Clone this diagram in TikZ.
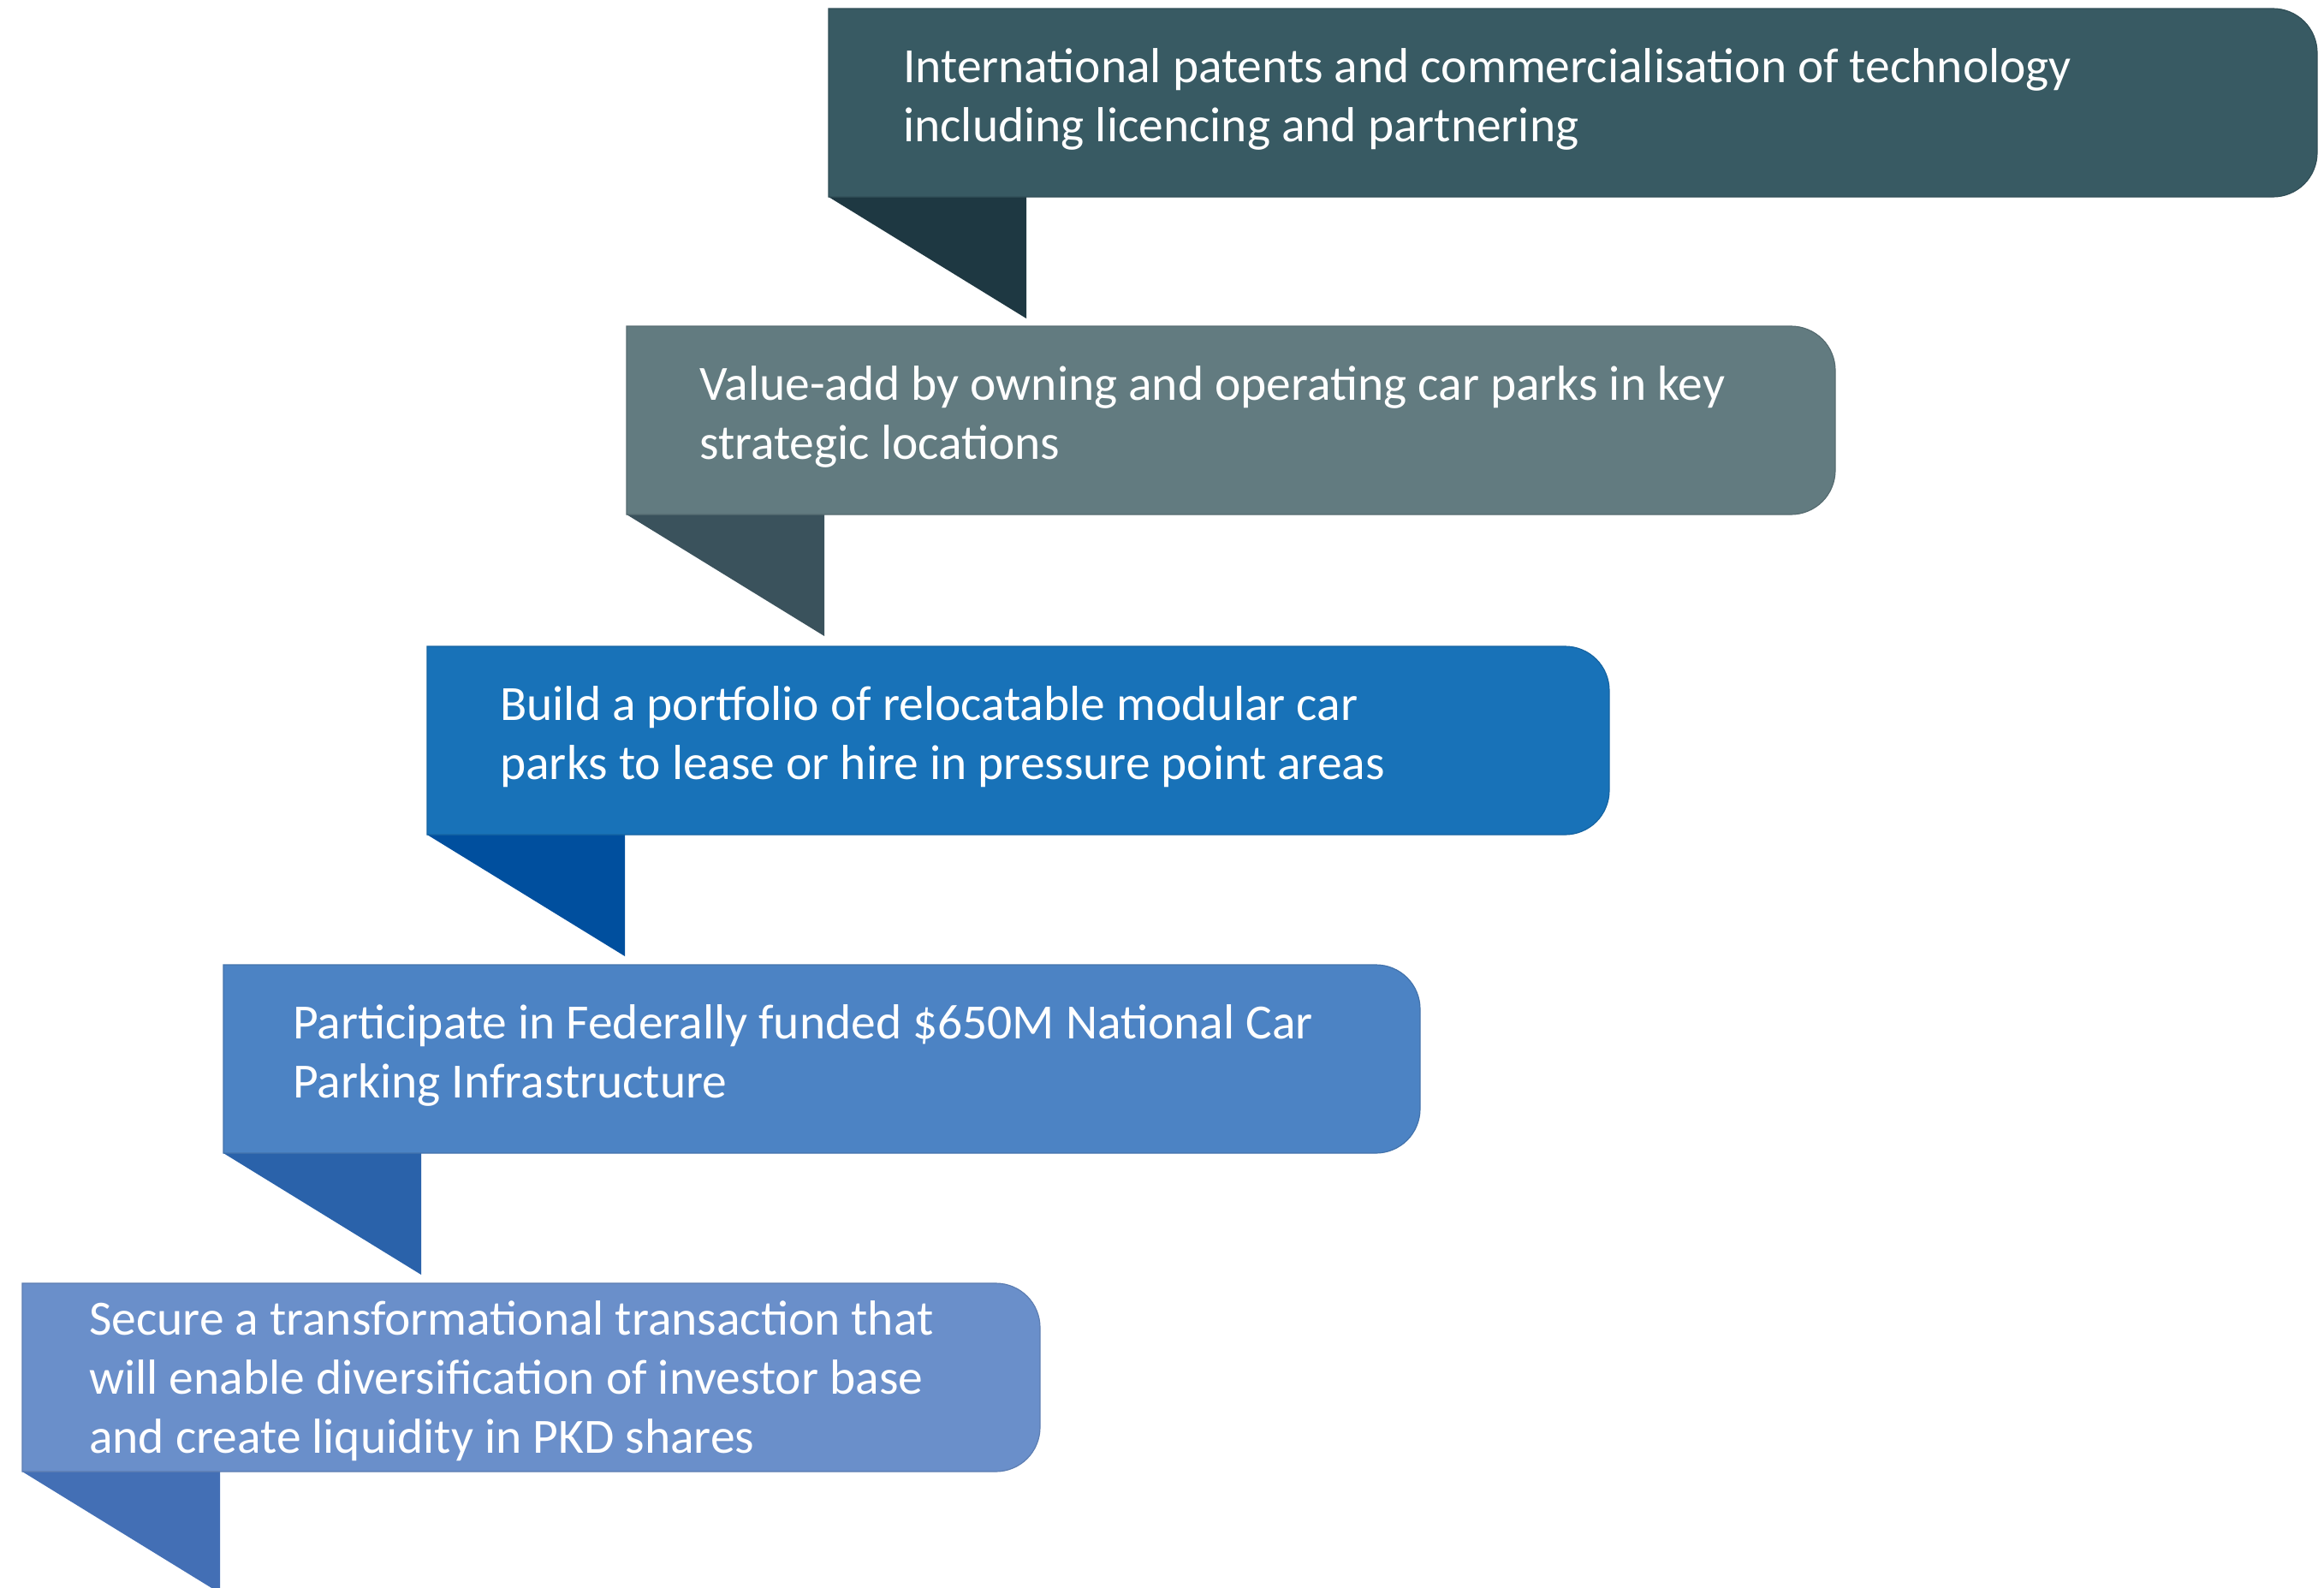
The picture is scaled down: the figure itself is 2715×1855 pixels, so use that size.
\documentclass[tikz,border=0pt]{standalone}
\usepackage{fontspec}
\setmainfont{Carlito}

\definecolor{ribA}{HTML}{385A63}
\definecolor{foldA}{HTML}{1E3842}
\definecolor{ribB}{HTML}{627B80}
\definecolor{foldB}{HTML}{3A525C}
\definecolor{ribC}{HTML}{1872B8}
\definecolor{foldC}{HTML}{004F9E}
\definecolor{ribD}{HTML}{4C83C4}
\definecolor{foldD}{HTML}{2A62AA}
\definecolor{ribE}{HTML}{6A8FCA}
\definecolor{foldE}{HTML}{436FB5}

\tikzset{
  ribbontext/.style={text=white, anchor=west, align=left, inner sep=0pt,
    font=\fontsize{57.5}{69}\selectfont},
}

% #1 left, #2 top, #3 right, #4 band colour, #5 fold colour,
% #6 node name, #7 text indent, #8 text vertical position, #9 text
\newcommand\ribbon[9]{%
  \fill[#5] (#1,#2+220) -- (#1+231,#2+220) -- (#1+231,#2+362) -- cycle;
  \filldraw[fill=#4, draw=#4!88!black, line width=1.2pt]
    (#1,#2) -- (#3-52,#2)
    .. controls (#3-23,#2) and (#3,#2+23) .. (#3,#2+52)
    -- (#3,#2+168)
    .. controls (#3,#2+197) and (#3-23,#2+220) .. (#3-52,#2+220)
    -- (#1,#2+220) -- cycle;
  \node[ribbontext] (#6) at (#1+#7,#2+#8) {#9};
}

\begin{document}
\begin{tikzpicture}[x=1pt, y=-1pt]
  \useasboundingbox (0,0) rectangle (2715,1855);
  \ribbon{968}{10}{2707}{ribA}{foldA}{patents}{87}{106}
    {International patents and commercialisation of technology\\including licencing and partnering}
  \ribbon{732}{381}{2144}{ribB}{foldB}{valueadd}{85}{106}
    {Value-add by owning and operating car parks in key\\strategic locations}
  \ribbon{499}{755}{1880}{ribC}{foldC}{portfolio}{85}{106}
    {Build a portfolio of relocatable modular car\\parks to lease or hire in pressure point areas}
  \ribbon{261}{1127}{1659}{ribD}{foldD}{federal}{81}{106}
    {Participate in Federally funded \$650M National Car\\Parking Infrastructure}
  \ribbon{26}{1499}{1215}{ribE}{foldE}{transaction}{78}{114}
    {Secure a transformational transaction that\\will enable diversification of investor base\\and create liquidity in PKD shares}
\end{tikzpicture}
\end{document}
